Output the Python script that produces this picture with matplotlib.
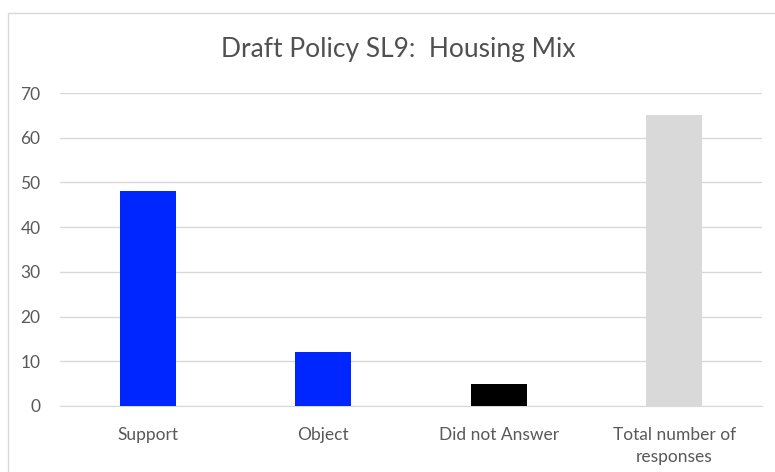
import matplotlib
matplotlib.use("Agg")
import matplotlib.pyplot as plt
from matplotlib.patches import Rectangle

categories = ["Support", "Object", "Did not Answer", "Total number of\nresponses"]
values = [48, 12, 5, 65]
colors = ["#0026ff", "#0026ff", "#000000", "#d9d9d9"]
y_ticks = [0, 10, 20, 30, 40, 50, 60, 70]

plt.rcParams["font.family"] = ["Lato", "DejaVu Sans"]

fig = plt.figure(figsize=(7.75, 4.72), dpi=100)
fig.patch.set_facecolor("white")

# chart border (runs off the right and bottom edges like the original)
fig.patches.append(Rectangle((8 / 775, -0.05), 1.0, 1 - 13 / 472 + 0.05,
                             transform=fig.transFigure, fill=False,
                             edgecolor="#d9d9d9", linewidth=1))

ax = fig.add_axes([60 / 775, 1 - 406 / 472, 702 / 775, (406 - 93) / 472])
x = range(len(categories))
ax.bar(x, values, width=0.32, color=colors, zorder=3)

ax.set_xlim(-0.5, len(categories) - 0.5)
ax.set_ylim(0, 70)
ax.set_yticks(y_ticks)
ax.set_xticks(list(x))
ax.set_xticklabels(categories, fontsize=12.5, color="#595959", linespacing=1.45)
ax.tick_params(axis="y", labelsize=12.5, labelcolor="#595959", length=0, pad=14)
ax.tick_params(axis="x", length=0, pad=15)
ax.grid(axis="y", color="#d9d9d9", linewidth=1, zorder=0)
for s in ["top", "right", "left"]:
    ax.spines[s].set_visible(False)
ax.spines["bottom"].set_color("#d9d9d9")

fig.text(398 / 775, 1 - 50 / 472, "Draft Policy SL9:  Housing Mix",
         ha="center", va="center", fontsize=19, color="#505050")

fig.savefig("out.png", dpi=100, facecolor=fig.get_facecolor())
plt.close(fig)
